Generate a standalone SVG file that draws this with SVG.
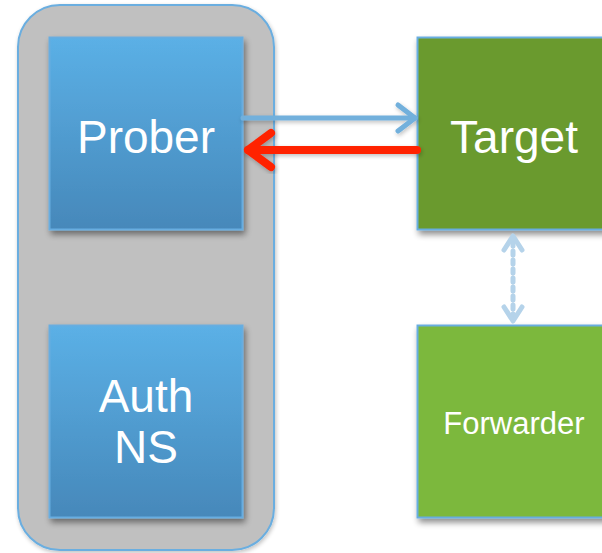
<svg xmlns="http://www.w3.org/2000/svg" width="602" height="553" viewBox="0 0 602 553">
  <defs>
    <linearGradient id="blueGrad" x1="0" y1="0" x2="0" y2="1">
      <stop offset="0" stop-color="#5bb0e6"/>
      <stop offset="1" stop-color="#4688ba"/>
    </linearGradient>
    <filter id="shadow" x="-20%" y="-20%" width="140%" height="140%">
      <feGaussianBlur in="SourceAlpha" stdDeviation="3"/>
      <feOffset dx="2" dy="4" result="b"/>
      <feComponentTransfer><feFuncA type="linear" slope="0.45"/></feComponentTransfer>
      <feMerge><feMergeNode/><feMergeNode in="SourceGraphic"/></feMerge>
    </filter>
    <filter id="softshadow" x="-10%" y="-10%" width="120%" height="120%">
      <feGaussianBlur in="SourceAlpha" stdDeviation="2"/>
      <feOffset dx="1" dy="2" result="b"/>
      <feComponentTransfer><feFuncA type="linear" slope="0.25"/></feComponentTransfer>
      <feMerge><feMergeNode/><feMergeNode in="SourceGraphic"/></feMerge>
    </filter>
  </defs>
  <style>
    .box { stroke: #68ade0; stroke-width: 2; filter: url(#shadow); }
    .lbl { font-family: "Liberation Sans", Arial, Helvetica, sans-serif; fill: #ffffff; text-anchor: middle; }
    .big { font-size: 46px; }
    .small { font-size: 31px; }
    .conn { fill: none; stroke-linecap: round; stroke-linejoin: round; }
  </style>

  <g id="container">
    <rect x="18" y="5" width="256" height="545" rx="42" ry="42" fill="#c0c0c0" stroke="#6aaee0" stroke-width="2" filter="url(#softshadow)"/>
  </g>

  <g id="prober">
    <rect class="box" x="49.5" y="37.5" width="193" height="192" fill="url(#blueGrad)"/>
    <text class="lbl big" x="146" y="153">Prober</text>
  </g>

  <g id="authns">
    <rect class="box" x="49.5" y="325.5" width="193" height="192" fill="url(#blueGrad)"/>
    <text class="lbl big" x="146" y="412">Auth</text>
    <text class="lbl big" x="146" y="463">NS</text>
  </g>

  <g id="target">
    <rect class="box" x="417.5" y="37.5" width="196" height="192" fill="#6b9a2e"/>
    <text class="lbl big" x="514" y="153">Target</text>
  </g>

  <g id="forwarder">
    <rect class="box" x="417.5" y="325.5" width="196" height="192" fill="#7cb83e"/>
    <text class="lbl small" x="514" y="434">Forwarder</text>
  </g>

  <g id="connectors">
    <g filter="url(#softshadow)">
      <path class="conn" d="M243 118 L415 118" stroke="#72b0dc" stroke-width="5" stroke-linecap="butt"/>
      <path class="conn" d="M398 105 L415 118 L398 131" stroke="#72b0dc" stroke-width="5"/>
      <path class="conn" d="M417 150 L248 150" stroke="#ff2200" stroke-width="8" stroke-linecap="butt"/>
      <path class="conn" d="M271 133 L248 150 L271 167" stroke="#ff2200" stroke-width="8"/>
    </g>
    <path class="conn" d="M513 242 L513 318" stroke="#b5d3ea" stroke-width="5" stroke-dasharray="4 5" stroke-linecap="butt"/>
    <path class="conn" d="M504 250 L513 236 L522 250" stroke="#b5d3ea" stroke-width="5"/>
    <path class="conn" d="M504 307 L513 321 L522 307" stroke="#b5d3ea" stroke-width="5"/>
  </g>
</svg>
